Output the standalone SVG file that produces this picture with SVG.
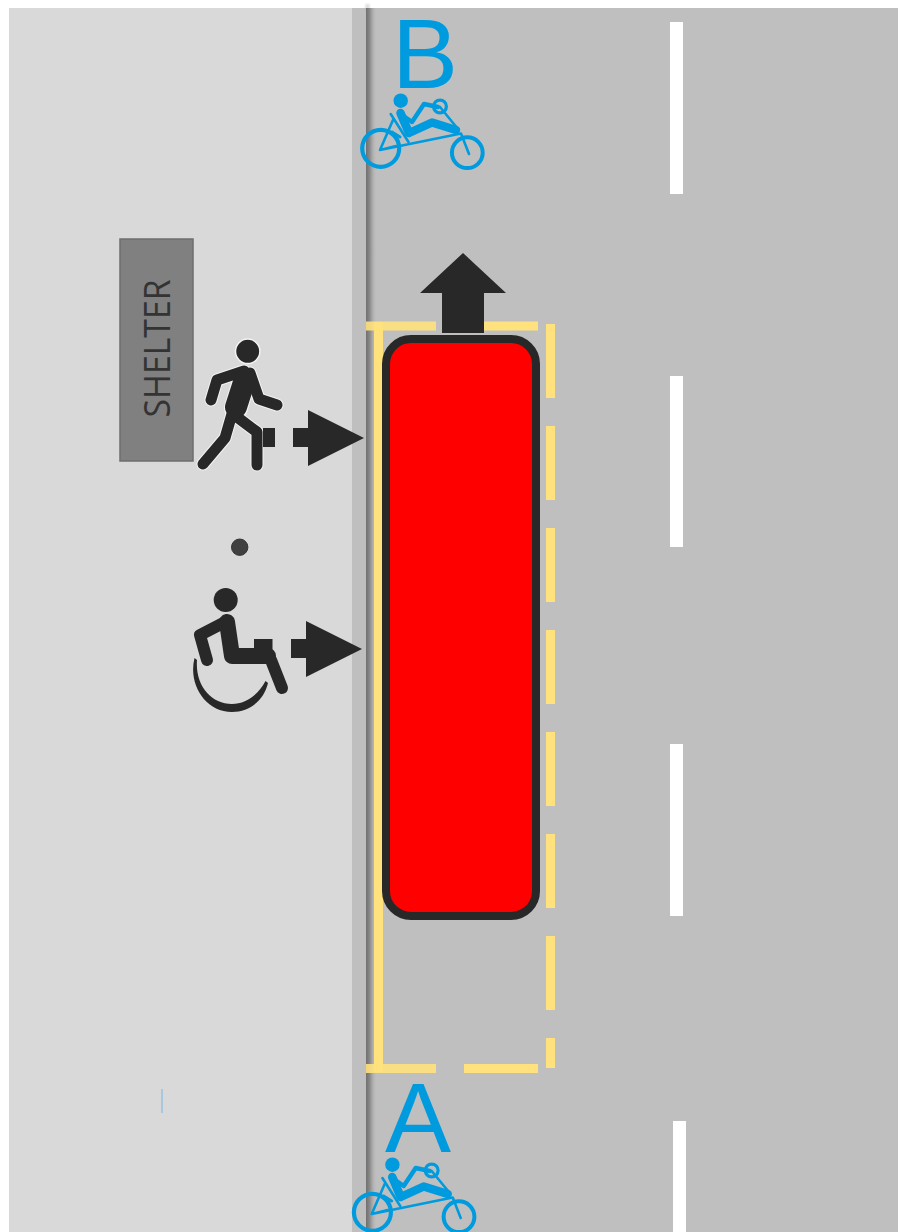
<svg xmlns="http://www.w3.org/2000/svg" width="898" height="1232" viewBox="0 0 898 1232">
<style>
.lane{fill:#fff}
.yl{fill:#ffe17d}
.ar{fill:#282828}
.bl{fill:#009bde;font-family:"Liberation Sans",Arial,sans-serif;font-size:99px}
.wo{fill:none;stroke:#f4f4f4;stroke-linecap:round;stroke-linejoin:round}
.dk{fill:none;stroke:#282828;stroke-linecap:round;stroke-linejoin:round}
.bk{fill:none;stroke:#009bde;stroke-linecap:round;stroke-linejoin:round}
</style>
<defs>
<linearGradient id="sh" x1="0" x2="1" y1="0" y2="0"><stop offset="0" stop-color="#6f6f6f"/><stop offset="0.35" stop-color="#8a8a8a"/><stop offset="1" stop-color="#bfbfbf" stop-opacity="0"/></linearGradient>
<filter id="bl1" x="-50%" y="-2%" width="200%" height="104%"><feGaussianBlur stdDeviation="1.5"/></filter>
<g id="bike">
<circle class="bk" cx="380.7" cy="148.3" r="18.5" stroke-width="4.2"/>
<circle class="bk" cx="467.3" cy="152.7" r="15.4" stroke-width="4"/>
<circle class="bk" cx="440" cy="106.5" r="6.4" stroke-width="3.2"/>
<circle cx="400.7" cy="100.7" r="7.2" fill="#009bde"/>
<path class="bk" stroke-width="2.6" d="M380 150L393 120M380 150L396 146M380 150L461 133.5L469 154M440 107L458 129M390.7 114L408.5 142"/>
<path class="bk" stroke-width="3" d="M392 132L400 137"/>
<path class="bk" stroke-width="8.5" d="M400.5 113L409 133L432 122.5L456 130"/>
<path class="bk" stroke-width="4.5" d="M402 115L412 122L424 104L438 107"/>
</g>
</defs>
<rect width="898" height="1232" fill="#fff"/>
<g id="ground">
<rect x="9" y="8" width="343" height="1224" fill="#d9d9d9"/>
<rect x="352" y="8" width="546" height="1224" fill="#bfbfbf"/>
<rect x="366" y="4" width="3" height="6" fill="#999" opacity="0.5" filter="url(#bl1)"/>
<rect x="366" y="8" width="11" height="1224" fill="url(#sh)"/>
</g>
<g id="lane-markings">
<rect class="lane" x="670" y="22" width="13" height="172"/>
<rect class="lane" x="670" y="376" width="13" height="171"/>
<rect class="lane" x="670" y="744" width="13" height="172"/>
<rect class="lane" x="673" y="1121" width="13" height="111"/>
</g>
<g id="bus-stop-box">
<rect class="yl" x="374" y="322" width="9" height="750"/>
<rect class="yl" x="366" y="321.500" width="70" height="9" opacity="0.9"/>
<rect class="yl" x="484" y="321.500" width="54" height="9"/>
<rect class="yl" x="366" y="1064" width="70" height="9" opacity="0.9"/>
<rect class="yl" x="464" y="1064" width="74" height="9"/>
<rect class="yl" x="546" y="324" width="9" height="74"/>
<rect class="yl" x="546" y="426" width="9" height="74"/>
<rect class="yl" x="546" y="528" width="9" height="74"/>
<rect class="yl" x="546" y="630" width="9" height="74"/>
<rect class="yl" x="546" y="732" width="9" height="74"/>
<rect class="yl" x="546" y="834" width="9" height="74"/>
<rect class="yl" x="546" y="936" width="9" height="74"/>
<rect class="yl" x="546" y="1038" width="9" height="30"/>
</g>
<g id="direction-arrow"><path class="ar" d="M463 253L506 293H484V333H442V293H420Z"/></g>
<g id="bus"><rect x="386" y="339" width="150" height="577" rx="25" ry="25" fill="#f00" stroke="#282828" stroke-width="8"/></g>
<g id="shelter">
<rect x="120" y="239" width="73" height="222" fill="#808080" stroke="#6e6e6e" stroke-width="1.500"/>
<text transform="translate(170 417.500) rotate(-90)" font-family="'Open Sans','Noto Sans',sans-serif" font-size="37" textLength="138" lengthAdjust="spacingAndGlyphs" fill="#333">SHELTER</text>
</g>
<g id="pedestrian">
<circle cx="247.700" cy="351.300" r="12.200" fill="#282828" stroke="#f4f4f4" stroke-width="1.500"/>
<g class="wo" stroke-width="1">
<path class="wo" stroke-width="13" d="M211 400L217 380L244 371M250 373L259 399L277 405M203 464L225 438L236 400L244 375M237 417L257 432V465"/>
<path class="wo" stroke-width="24" d="M245 378L236 408"/>
</g>
<path class="dk" stroke-width="11" d="M211 400L217 380L244 371M250 373L259 399L277 405M203 464L225 438L236 400L244 375M237 417L257 432V465"/>
<path class="dk" stroke-width="22" d="M245 379L236 407"/>
<rect class="ar" x="263" y="428" width="12" height="19"/>
<path class="ar" d="M293 428H308V410L364 438L308 466V447H293Z"/>
</g>
<g id="dot"><circle cx="239.700" cy="547.200" r="8.200" fill="#404040" stroke="#333" stroke-width="1"/></g>
<g id="wheelchair-user">
<circle cx="225.700" cy="600" r="12" fill="#282828"/>
<path class="dk" stroke-width="12" d="M207 660L200 635L227 621"/>
<path class="dk" stroke-width="16" d="M227 622L232 656H268"/>
<path class="dk" stroke-width="12" d="M271 660L282 688"/>
<rect class="ar" x="254" y="639" width="18.500" height="20"/>
<path class="ar" d="M194.500 658C188 684 205 712 232 712C250 712 264 700 268 683L265.500 681C258 695 246 704 232 704C211 704 195 685 197 660Z"/>
<path class="ar" d="M291 639H306V621L362 649L306 677V658H291Z"/>
</g>
<g id="cyclist-b">
<text class="bl" x="392" y="88">B</text>
<use href="#bike"/>
</g>
<g id="cyclist-a">
<text class="bl" x="385" y="1152">A</text>
<use href="#bike" x="-8.300" y="1064"/>
</g>
<rect id="tick" x="161" y="1089" width="2" height="24" fill="#a8c8e0"/>
</svg>
